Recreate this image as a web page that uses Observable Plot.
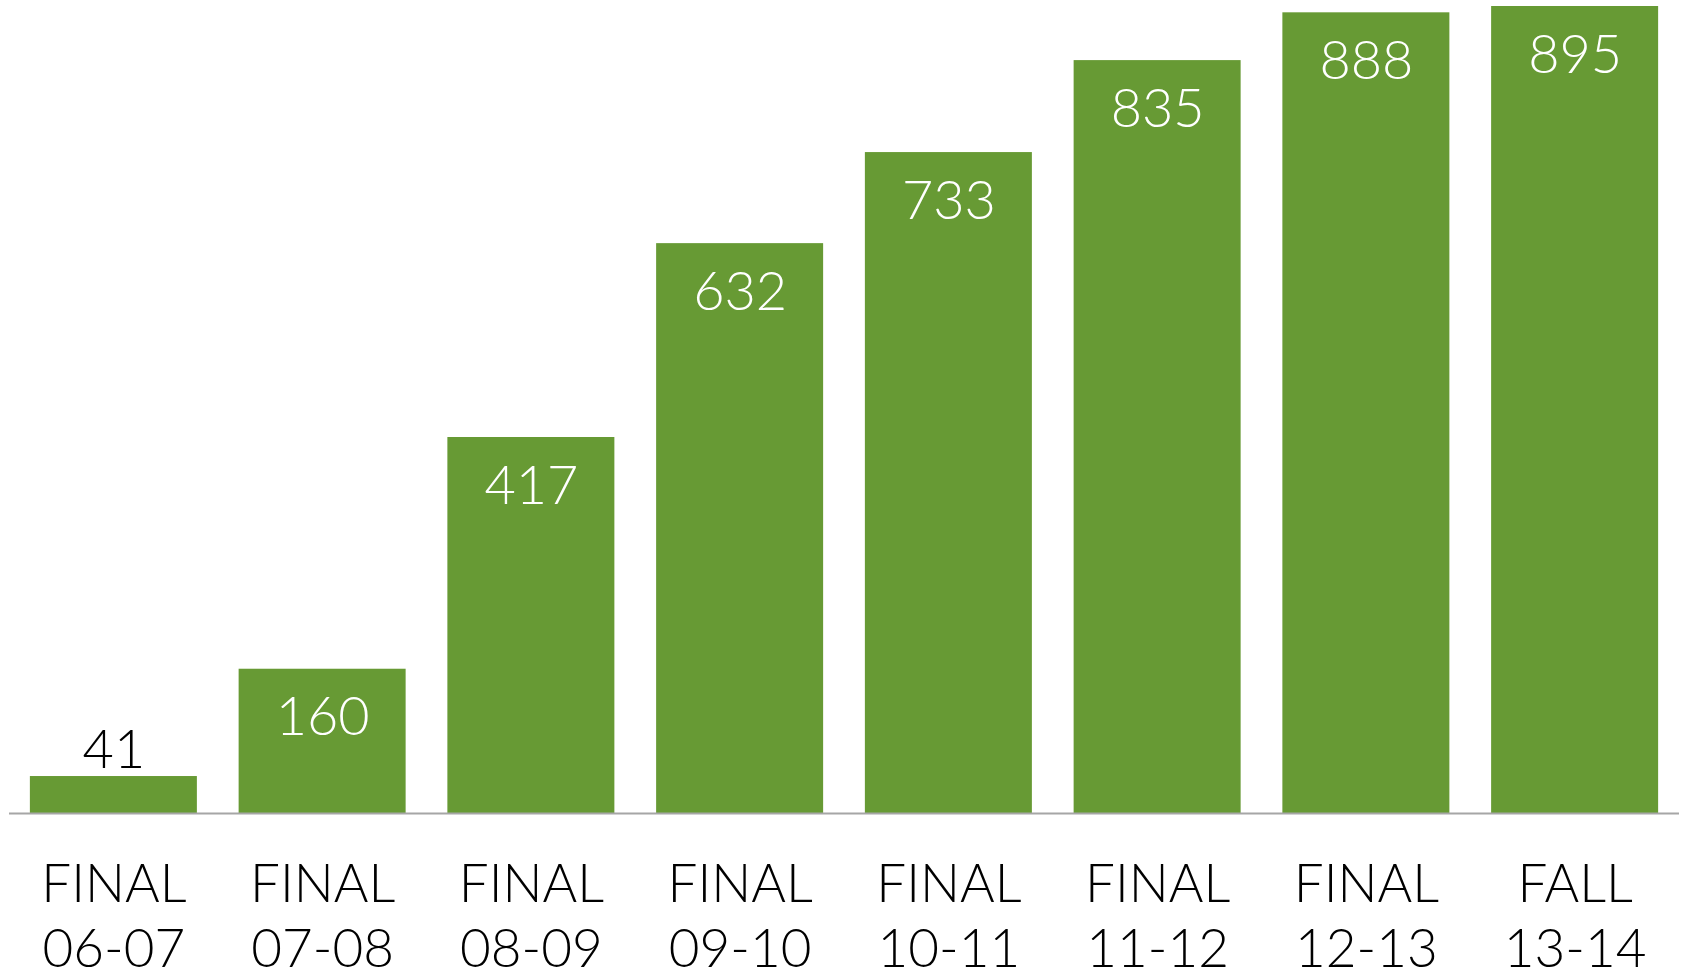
<!DOCTYPE html>
<html>
<head>
<meta charset="utf-8">
<script src="https://cdn.jsdelivr.net/npm/d3@7"></script>
<script src="https://cdn.jsdelivr.net/npm/@observablehq/plot@0.6"></script>
<style>
  html, body { margin: 0; padding: 0; background: #ffffff; overflow: hidden; }
  #chart svg { display: block; }
</style>
</head>
<body>
<div id="chart"></div>
<script>
const periodTypes = ["FINAL", "FINAL", "FINAL", "FINAL", "FINAL", "FINAL", "FINAL", "FALL"];
const years = ["06-07", "07-08", "08-09", "09-10", "10-11", "11-12", "12-13", "13-14"];
const values = [41, 160, 417, 632, 733, 835, 888, 895];

const data = years.map((y, i) => ({
  key: periodTypes[i] + " " + y,
  label: periodTypes[i] + "\n" + y,
  value: values[i],
  inside: values[i] >= 100
}));

const font = "'Century Gothic', 'URW Gothic', Lato, 'DejaVu Sans', sans-serif";
const green = "#679a34";

const chart = Plot.plot({
  width: 1681,
  height: 973,
  marginTop: 6,
  marginBottom: 160,
  marginLeft: 9,
  marginRight: 2,
  style: { fontFamily: font, background: "#ffffff" },
  x: { domain: data.map(d => d.key), paddingInner: 0.2, paddingOuter: 0.1, round: false, axis: null },
  y: { domain: [0, 895], axis: null },
  marks: [
    Plot.barY(data, { x: "key", y: "value", fill: green }),
    Plot.ruleY([0], { stroke: "#a6a6a6", strokeWidth: 2 }),
    Plot.text(data.filter(d => d.inside), {
      x: "key", y: "value", text: d => String(d.value),
      fill: "#ffffff", fontSize: 54, lineAnchor: "bottom", dy: 66, fontWeight: 300
    }),
    Plot.text(data.filter(d => !d.inside), {
      x: "key", y: "value", text: d => String(d.value),
      fill: "#000000", fontSize: 54, lineAnchor: "bottom", dy: -9, fontWeight: 300
    }),
    Plot.text(data, {
      x: "key", y: () => 0, text: "label",
      fill: "#000000", fontSize: 53, lineAnchor: "top", lineHeight: 65 / 53,
      dy: 42, fontWeight: 300
    })
  ]
});
document.getElementById("chart").appendChild(chart);
</script>
</body>
</html>
